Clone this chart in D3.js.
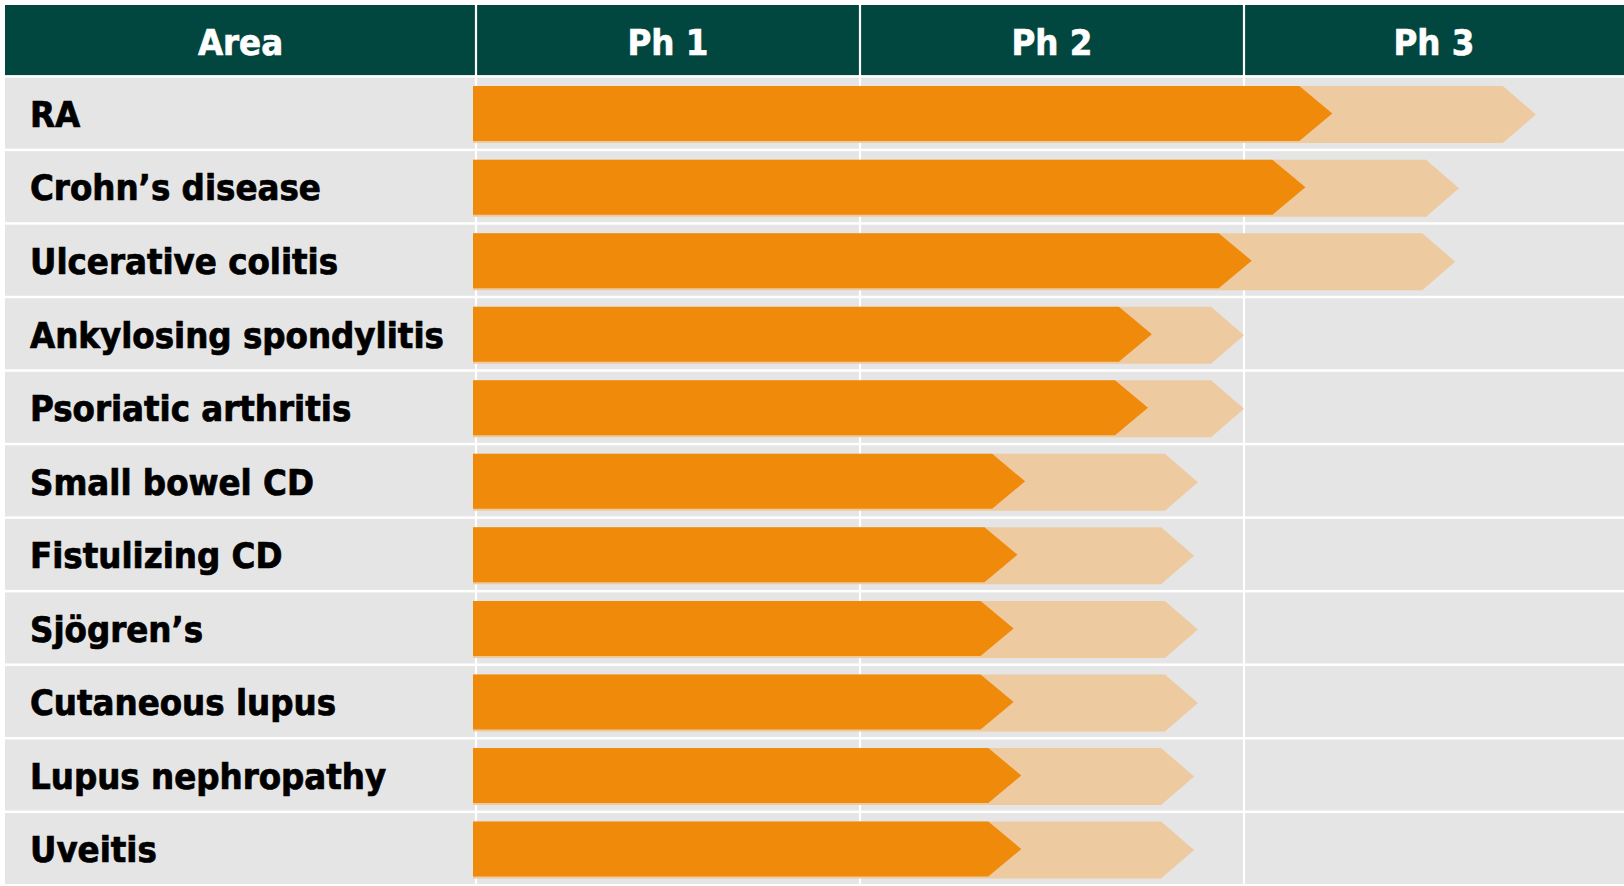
<!DOCTYPE html>
<html>
<head>
<meta charset="utf-8">
<script src="https://cdn.jsdelivr.net/npm/d3@7"></script>
<style>
  html, body { margin: 0; padding: 0; background: #ffffff; }
  svg { display: block; }
  text { font-family: "DejaVu Sans Condensed", "DejaVu Sans", Verdana, sans-serif; font-weight: bold; }
</style>
</head>
<body>
<svg id="chart" width="1624" height="886"></svg>
<script>
// ---- data ----
const headers = ["Area", "Ph 1", "Ph 2", "Ph 3"];
const areas = [
  "RA",
  "Crohn\u2019s disease",
  "Ulcerative colitis",
  "Ankylosing spondylitis",
  "Psoriatic arthritis",
  "Small bowel CD",
  "Fistulizing CD",
  "Sj\u00f6gren\u2019s",
  "Cutaneous lupus",
  "Lupus nephropathy",
  "Uveitis"
];
// progress reached (in phases, 0..3) — solid orange
const current = [2.23, 2.16, 2.02, 1.76, 1.75, 1.43, 1.41, 1.40, 1.40, 1.42, 1.42];
// projected progress (in phases) — light orange
const projected = [2.76, 2.56, 2.55, 2.00, 2.00, 1.88, 1.87, 1.88, 1.88, 1.87, 1.87];
const phaseTicks = [0, 1, 2, 3];

// ---- layout ----
(function () {
const W = 1624, H = 886;
const svg = d3.select("#chart");
const padL = 5, padT = 5, headerBottom = 77.6, labelColRight = 476;
const gap = 2.5;

const x = d3.scaleLinear().domain([0, 3]).range([labelColRight, 1628]);
const y = d3.scaleBand().domain(areas).range([headerBottom, 886.6]).paddingInner(0);

const colors = {
  header: "#02473F",
  cell: "#E5E5E5",
  current: "#F08A0A",
  projected: "#EDCAA0"
};

// header band
svg.append("rect")
  .attr("x", padL).attr("y", padT)
  .attr("width", W - padL).attr("height", headerBottom - gap - padT)
  .attr("fill", colors.header);

// row backgrounds
svg.append("g").selectAll("rect").data(areas).join("rect")
  .attr("x", padL)
  .attr("y", d => y(d))
  .attr("width", W - padL)
  .attr("height", y.bandwidth() - gap)
  .attr("fill", colors.cell);

// vertical column separators
svg.append("g").selectAll("line").data(phaseTicks.slice(0, 3)).join("line")
  .attr("x1", d => x(d)).attr("x2", d => x(d))
  .attr("y1", padT).attr("y2", H)
  .attr("stroke", "#ffffff").attr("stroke-width", 2.2);

// bars
const barOffset = 8.5, barH = 55, projH = 57, notch = 33;
function arrow(x0, x1, y0, h) {
  const ym = y0 + h / 2;
  return `M${x0},${y0}L${x1 - notch},${y0}L${x1},${ym}L${x1 - notch},${y0 + h}L${x0},${y0 + h}Z`;
}
const bars = svg.append("g");
bars.selectAll("path.proj").data(areas).join("path")
  .attr("class", "proj")
  .attr("d", (d, i) => arrow(x(0) - 3, x(projected[i]), y(d) + barOffset, projH))
  .attr("fill", colors.projected);
bars.selectAll("path.cur").data(areas).join("path")
  .attr("class", "cur")
  .attr("d", (d, i) => arrow(x(0) - 3, x(current[i]), y(d) + barOffset, barH))
  .attr("fill", colors.current);

// text: condensed horizontally to mimic the reference face
const labelSize = 35, headerSize = 35;
const probe = svg.append("text").attr("font-size", labelSize).text(areas[3]);
const factor = 414 / probe.node().getComputedTextLength();
probe.remove();

const capRatio = 0.729;
const labels = svg.append("g");
areas.forEach(a => {
  const cy = y(a) + (y.bandwidth() - gap) / 2;
  labels.append("g")
    .attr("transform", `translate(30,${cy + 1 + labelSize * capRatio / 2}) scale(${factor},1)`)
    .append("text")
    .attr("font-size", labelSize)
    .attr("fill", "#000000")
    .attr("stroke", "#000000").attr("stroke-width", 0.7)
    .text(a);
});

const headerCenters = [
  (padL + labelColRight) / 2,
  (x(0) + x(1)) / 2,
  (x(1) + x(2)) / 2,
  (x(2) + W) / 2
];
const hcy = (padT + headerBottom - gap) / 2;
headers.forEach((h, i) => {
  svg.append("g")
    .attr("transform", `translate(${headerCenters[i]},${hcy + 2 + headerSize * capRatio / 2}) scale(${factor},1)`)
    .append("text")
    .attr("font-size", headerSize)
    .attr("text-anchor", "middle")
    .attr("fill", "#ffffff")
    .attr("stroke", "#ffffff").attr("stroke-width", 0.6)
    .text(h);
});
})();
</script>
</body>
</html>
